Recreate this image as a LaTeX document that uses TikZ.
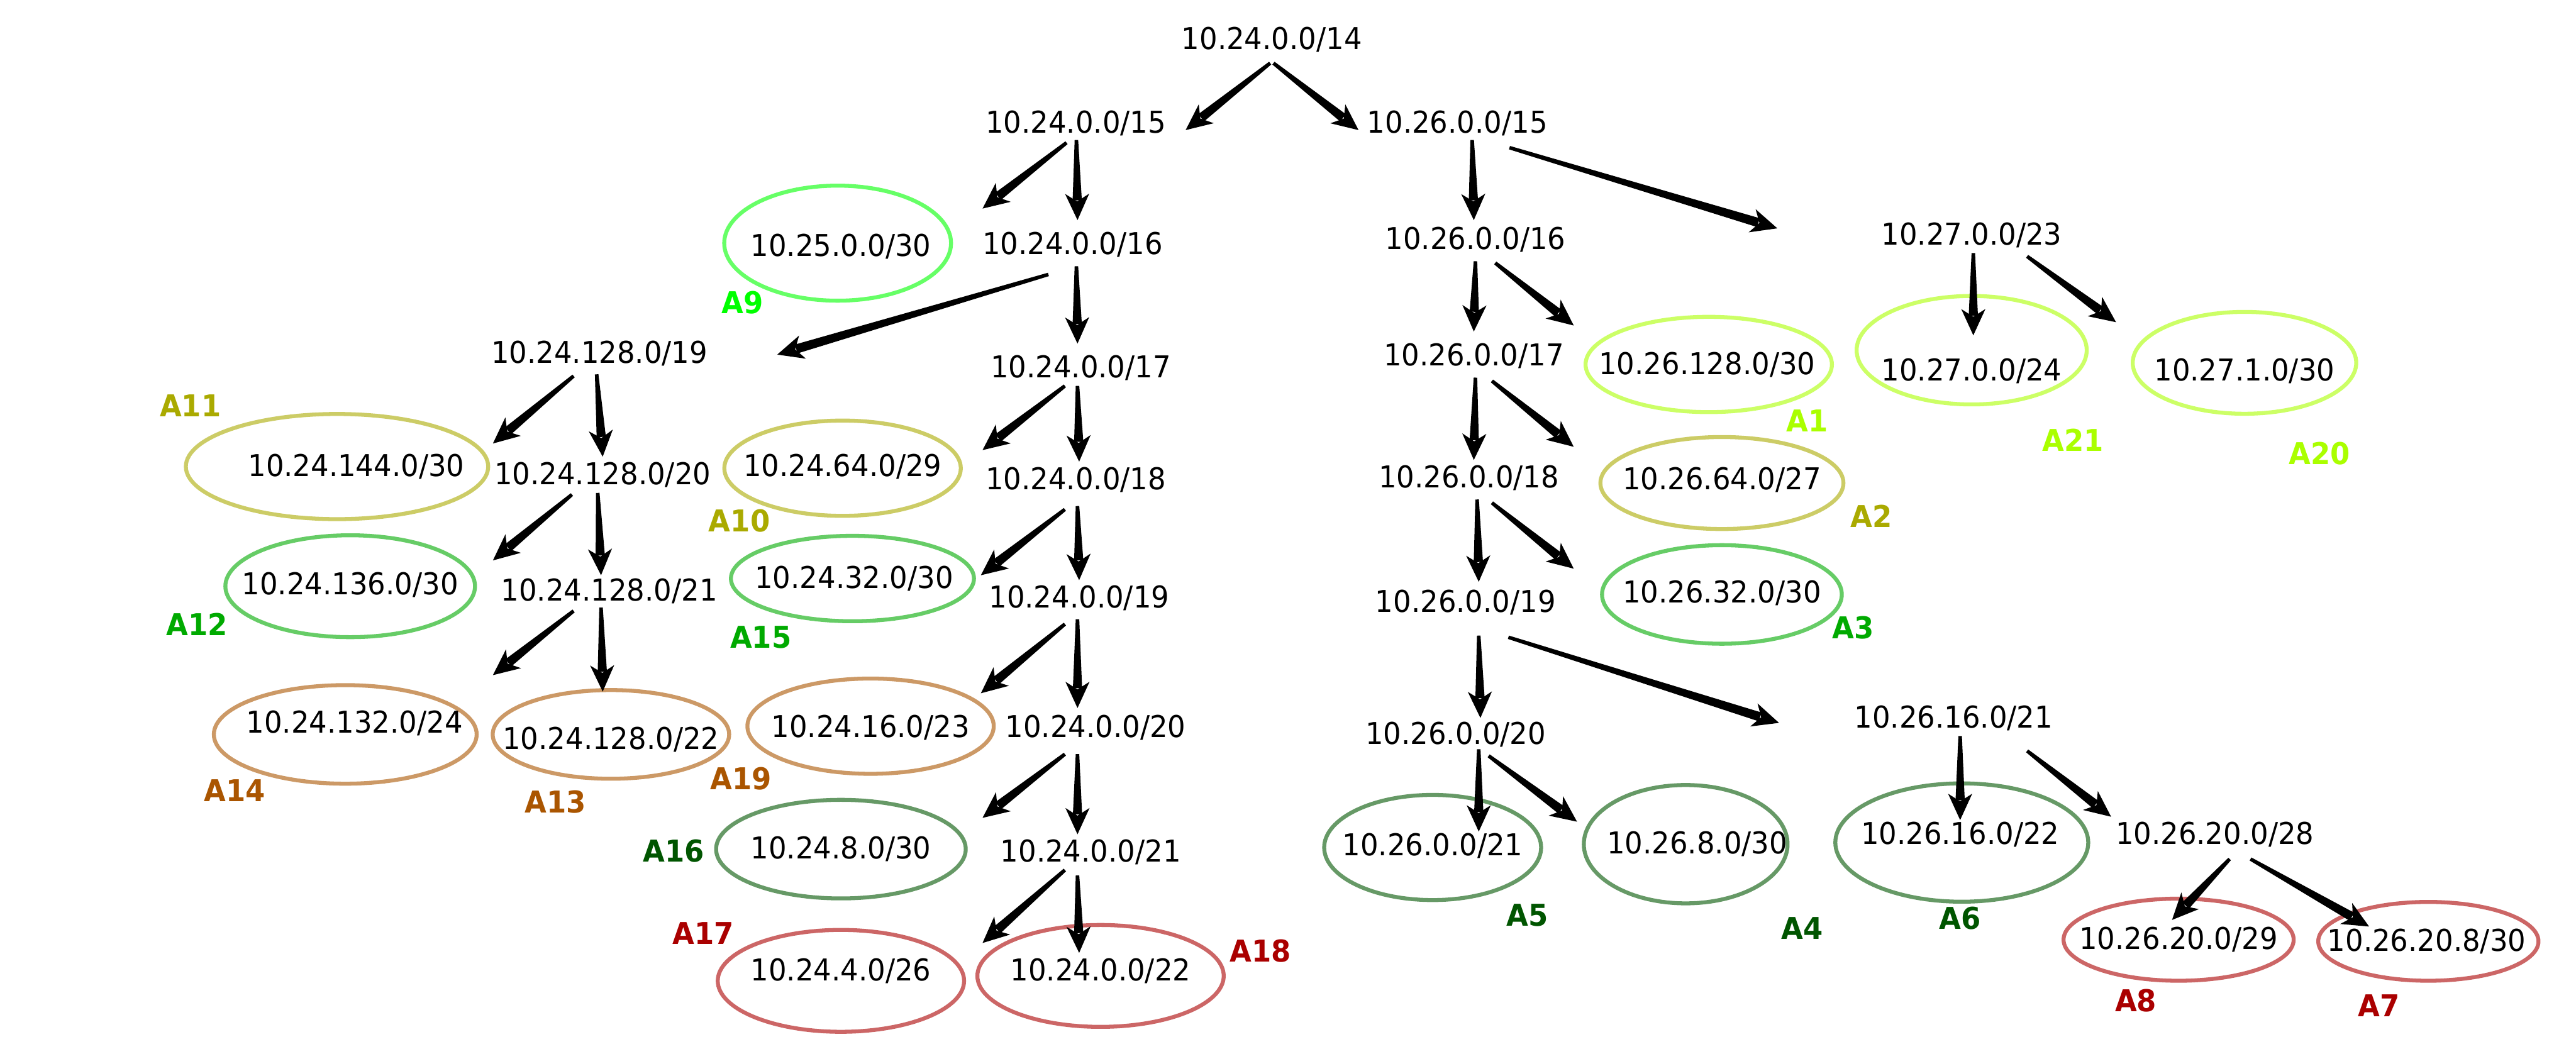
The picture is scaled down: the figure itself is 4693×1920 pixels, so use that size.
\documentclass[tikz,border=0pt]{standalone}
\usepackage{fontspec}
\setmainfont{DejaVu Sans}[FakeStretch=0.94]
\usetikzlibrary{calc,shapes.geometric}
\definecolor{lLime}{HTML}{AAFF00}\definecolor{eLime}{HTML}{CCFF66}
\definecolor{lBright}{HTML}{00FF00}\definecolor{eBright}{HTML}{66FF66}
\definecolor{lOlive}{HTML}{AAAA00}\definecolor{eOlive}{HTML}{CCCC66}
\definecolor{lGreen}{HTML}{00AA00}\definecolor{eGreen}{HTML}{66CC66}
\definecolor{lBrown}{HTML}{AA5500}\definecolor{eBrown}{HTML}{CC9966}
\definecolor{lDark}{HTML}{005500}\definecolor{eDark}{HTML}{669966}
\definecolor{lRed}{HTML}{AA0000}\definecolor{eRed}{HTML}{CC6666}
\newcommand\tarr[2]{%
  \path #1 coordinate (ts) #2 coordinate (te);
  \fill ($(ts)!0.8pt!90:(te)$) -- ($(te)!9pt!(ts)!2.1pt!-90:(ts)$) -- ($(te)!9pt!(ts)!2.1pt!90:(ts)$) -- ($(ts)!0.8pt!-90:(te)$) -- cycle;
  \fill (te) -- ($(te)!12pt!(ts)!5.5pt!-90:(ts)$) -- ($(te)!8.5pt!(ts)$) -- ($(te)!12pt!(ts)!5.5pt!90:(ts)$) -- cycle;
}
\begin{document}
\begin{tikzpicture}[x=0.25pt,y=-0.25pt,
  txt/.style={font=\fontsize{13.7}{16}\selectfont, inner sep=0pt},
  lab/.style={text=#1, font=\fontsize{13.7}{16}\selectfont\bfseries, inner sep=0pt},
  ell/.style={draw=#1, ellipse, line width=1.8pt, inner sep=0pt}]
\useasboundingbox[fill=white] (0,0) rectangle (4693,1920);

% ellipses
\node[ell=eBright, minimum width=103.3pt, minimum height=52.4pt] (eA9) at (1526,443) {};
\node[ell=eOlive, minimum width=137.7pt, minimum height=47.9pt] (eA11) at (614,850) {};
\node[ell=eGreen, minimum width=113.7pt, minimum height=46.4pt] (eA12) at (638,1068) {};
\node[ell=eBrown, minimum width=119.7pt, minimum height=44.9pt] (eA14) at (629,1338) {};
\node[ell=eBrown, minimum width=107.7pt, minimum height=40.4pt] (eA13) at (1113,1338) {};
\node[ell=eOlive, minimum width=107.7pt, minimum height=43.4pt] (eA10) at (1535,853) {};
\node[ell=eGreen, minimum width=110.7pt, minimum height=38.9pt] (eA15) at (1553,1054) {};
\node[ell=eBrown, minimum width=112.2pt, minimum height=43.4pt] (eA19) at (1586,1323) {};
\node[ell=eDark, minimum width=113.7pt, minimum height=44.9pt] (eA16) at (1532,1547) {};
\node[ell=eRed, minimum width=112.2pt, minimum height=46.4pt] (eA17) at (1532,1787) {};
\node[ell=eRed, minimum width=112.2pt, minimum height=46.4pt] (eA18) at (2005,1778) {};
\node[ell=eLime, minimum width=112.2pt, minimum height=43.4pt] (eA1) at (3113,664) {};
\node[ell=eOlive, minimum width=110.7pt, minimum height=41.9pt] (eA2) at (3137,880) {};
\node[ell=eGreen, minimum width=109.2pt, minimum height=44.9pt] (eA3) at (3137,1083) {};
\node[ell=eLime, minimum width=104.8pt, minimum height=49.4pt] (eA21) at (3592,638) {};
\node[ell=eLime, minimum width=101.8pt, minimum height=46.4pt] (eA20) at (4089,661) {};
\node[ell=eDark, minimum width=98.8pt, minimum height=47.9pt] (eA5) at (2610,1544) {};
\node[ell=eDark, minimum width=92.8pt, minimum height=53.9pt] (eA4) at (3071,1538) {};
\node[ell=eDark, minimum width=115.2pt, minimum height=53.9pt] (eA6) at (3574,1535) {};
\node[ell=eRed, minimum width=104.8pt, minimum height=37.4pt] (eA8) at (3969,1712) {};
\node[ell=eRed, minimum width=100.3pt, minimum height=35.9pt] (eA7) at (4424,1715) {};

% texts inside ellipses
\node[txt] (tA9) at (1532,449) {10.25.0.0/30};
\node[txt] (tA11) at (649,850) {10.24.144.0/30};
\node[txt] (tA12) at (638,1066) {10.24.136.0/30};
\node[txt] (tA14) at (646,1317) {10.24.132.0/24};
\node[txt] (tA13) at (1113,1347) {10.24.128.0/22};
\node[txt] (tA10) at (1535,850) {10.24.64.0/29};
\node[txt] (tA15) at (1556,1054) {10.24.32.0/30};
\node[txt] (tA19) at (1586,1326) {10.24.16.0/23};
\node[txt] (tA16) at (1532,1547) {10.24.8.0/30};
\node[txt] (tA17) at (1532,1769) {10.24.4.0/26};
\node[txt] (tA18) at (2005,1769) {10.24.0.0/22};
\node[txt] (tA1) at (3110,664) {10.26.128.0/30};
\node[txt] (tA2) at (3137,874) {10.26.64.0/27};
\node[txt] (tA3) at (3137,1080) {10.26.32.0/30};
\node[txt] (tA21) at (3592,676) {10.27.0.0/24};
\node[txt] (tA20) at (4089,676) {10.27.1.0/30};
\node[txt] (tA5) at (2610,1541) {10.26.0.0/21};
\node[txt] (tA4) at (3092,1538) {10.26.8.0/30};
\node[txt] (tA6) at (3571,1520) {10.26.16.0/22};
\node[txt] (tA8) at (3969,1712) {10.26.20.0/29};
\node[txt] (tA7) at (4421,1715) {10.26.20.8/30};

% area labels
\node[lab=lBright] (lA9) at (1353,551) {A9};
\node[lab=lOlive] (lA11) at (347,739) {A11};
\node[lab=lGreen] (lA12) at (359,1137) {A12};
\node[lab=lBrown] (lA14) at (428,1440) {A14};
\node[lab=lBrown] (lA13) at (1012,1461) {A13};
\node[lab=lOlive] (lA10) at (1347,949) {A10};
\node[lab=lGreen] (lA15) at (1386,1161) {A15};
\node[lab=lBrown] (lA19) at (1350,1419) {A19};
\node[lab=lDark] (lA16) at (1227,1550) {A16};
\node[lab=lRed] (lA17) at (1281,1700) {A17};
\node[lab=lRed] (lA18) at (2296,1733) {A18};
\node[lab=lLime] (lA1) at (3292,766) {A1};
\node[lab=lOlive] (lA2) at (3409,940) {A2};
\node[lab=lGreen] (lA3) at (3376,1143) {A3};
\node[lab=lLime] (lA21) at (3777,802) {A21};
\node[lab=lLime] (lA20) at (4226,826) {A20};
\node[lab=lDark] (lA5) at (2783,1667) {A5};
\node[lab=lDark] (lA4) at (3283,1691) {A4};
\node[lab=lDark] (lA6) at (3571,1673) {A6};
\node[lab=lRed] (lA8) at (3891,1823) {A8};
\node[lab=lRed] (lA7) at (4334,1832) {A7};

% prefix nodes
\node[txt] (n14) at (2317,72) {10.24.0.0/14};
\node[txt] (n15a) at (1960,224) {10.24.0.0/15};
\node[txt] (n15b) at (2655,224) {10.26.0.0/15};
\node[txt] (n16a) at (1954,446) {10.24.0.0/16};
\node[txt] (n16b) at (2688,437) {10.26.0.0/16};
\node[txt] (n23) at (3592,428) {10.27.0.0/23};
\node[txt] (n19a) at (1092,644) {10.24.128.0/19};
\node[txt] (n17a) at (1969,670) {10.24.0.0/17};
\node[txt] (n17b) at (2685,649) {10.26.0.0/17};
\node[txt] (n20a) at (1098,865) {10.24.128.0/20};
\node[txt] (n18a) at (1960,874) {10.24.0.0/18};
\node[txt] (n18b) at (2676,871) {10.26.0.0/18};
\node[txt] (n21a) at (1110,1077) {10.24.128.0/21};
\node[txt] (n19b) at (1966,1089) {10.24.0.0/19};
\node[txt] (n19c) at (2670,1098) {10.26.0.0/19};
\node[txt] (n20b) at (1996,1326) {10.24.0.0/20};
\node[txt] (n20c) at (2652,1338) {10.26.0.0/20};
\node[txt] (n21b) at (3559,1308) {10.26.16.0/21};
\node[txt] (n21c) at (1987,1553) {10.24.0.0/21};
\node[txt] (n28) at (4035,1520) {10.26.20.0/28};

% arrows
\tarr{($(n14)+(-3,43)$)}{($(n15a)+(200,13)$)}
\tarr{($(n14)+(3,43)$)}{($(n15b)+(-180,13)$)}
\tarr{($(n15a)+(-17,36)$)}{($(eA9)+(264,-63)$)}
\tarr{($(n15a)+(1,31)$)}{($(n16a)+(9,-45)$)}
\tarr{($(n16a)+(-44,54)$)}{($(n19a)+(324,2)$)}
\tarr{($(n16a)+(7,39)$)}{($(n17a)+(-6,-44)$)}
\tarr{($(n19a)+(-47,41)$)}{($(eA11)+(284,-42)$)}
\tarr{($(n19a)+(-5,38)$)}{($(n20a)+(0,-33)$)}
\tarr{($(n20a)+(-56,36)$)}{($(eA12)+(260,-47)$)}
\tarr{($(n20a)+(-9,33)$)}{($(n21a)+(-15,-29)$)}
\tarr{($(n21a)+(-65,36)$)}{($(eA14)+(269,-108)$)}
\tarr{($(n21a)+(-15,30)$)}{($(eA13)+(-15,-78)$)}
\tarr{($(n17a)+(-29,33)$)}{($(eA10)+(255,-33)$)}
\tarr{($(n17a)+(-6,33)$)}{($(n18a)+(6,-33)$)}
\tarr{($(n18a)+(-20,54)$)}{($(eA15)+(234,-6)$)}
\tarr{($(n18a)+(3,48)$)}{($(n19b)+(0,-32)$)}
\tarr{($(n19b)+(-26,48)$)}{($(eA19)+(201,-60)$)}
\tarr{($(n19b)+(-3,39)$)}{($(n20b)+(-33,-36)$)}
\tarr{($(n20b)+(-56,48)$)}{($(eA16)+(258,-57)$)}
\tarr{($(n20b)+(-33,48)$)}{($(n21c)+(-24,-33)$)}
\tarr{($(n21c)+(-47,32)$)}{($(eA17)+(258,-69)$)}
\tarr{($(n21c)+(-24,42)$)}{($(eA18)+(-39,-42)$)}
\tarr{($(n15b)+(27,31)$)}{($(n16b)+(-3,-36)$)}
\tarr{($(n15b)+(95,45)$)}{($(n23)+(-354,-12)$)}
\tarr{($(n16b)+(0,39)$)}{($(n17b)+(0,-45)$)}
\tarr{($(n16b)+(36,42)$)}{($(eA1)+(-246,-71)$)}
\tarr{($(n17b)+(3,39)$)}{($(n18b)+(9,-33)$)}
\tarr{($(n17b)+(33,45)$)}{($(eA2)+(-270,-66)$)}
\tarr{($(n18b)+(15,39)$)}{($(n19c)+(24,-38)$)}
\tarr{($(n18b)+(42,45)$)}{($(eA3)+(-270,-47)$)}
\tarr{($(n19c)+(24,60)$)}{($(n20c)+(45,-30)$)}
\tarr{($(n19c)+(78,63)$)}{($(n21b)+(-318,9)$)}
\tarr{($(n20c)+(42,27)$)}{($(eA5)+(84,-29)$)}
\tarr{($(n20c)+(60,39)$)}{($(eA4)+(-198,-41)$)}
\tarr{($(n23)+(3,33)$)}{($(eA21)+(3,-27)$)}
\tarr{($(n23)+(101,39)$)}{($(eA20)+(-234,-74)$)}
\tarr{($(n21b)+(12,33)$)}{($(eA6)+(-3,-41)$)}
\tarr{($(n21b)+(134,60)$)}{($(n28)+(-189,-32)$)}
\tarr{($(n28)+(27,45)$)}{($(eA8)+(-12,-36)$)}
\tarr{($(n28)+(65,45)$)}{($(eA7)+(-108,-27)$)}
\end{tikzpicture}
\end{document}
